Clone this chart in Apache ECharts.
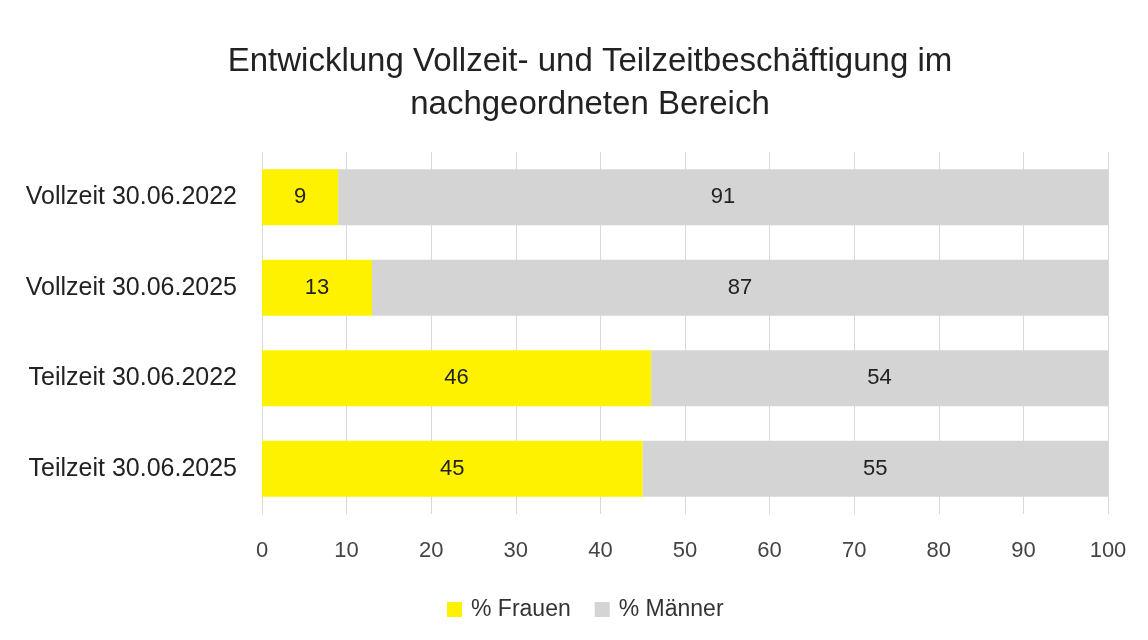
<!DOCTYPE html>
<html lang="de">
<head>
    <meta charset="UTF-8">
    <script src="https://cdn.jsdelivr.net/npm/echarts@6/dist/echarts.min.js"></script>
    <title>Vollzeit und Teilzeit</title>
    <style>
        html, body { margin: 0; padding: 0; background: #fff; }
        #chart { width: 1148px; height: 640px; }
    </style>
</head>
<body>
    <div id="chart"></div>
    <script>
        // Kategorien (von oben nach unten)
        const categories = ['Vollzeit 30.06.2022', 'Vollzeit 30.06.2025', 'Teilzeit 30.06.2022', 'Teilzeit 30.06.2025']
        const frauen = [9, 13, 46, 45]
        const maenner = [91, 87, 54, 55]
        const seriesNames = ['% Frauen', '% Männer']

        const font = '"Liberation Sans", Arial, sans-serif'
        const chart = echarts.init(document.getElementById('chart'))

        const label = {
            show: true,
            position: 'inside',
            color: '#222',
            fontSize: 22,
            fontFamily: font
        }

        chart.setOption({
            animation: false,
            title: {
                text: 'Entwicklung Vollzeit- und Teilzeitbeschäftigung im\nnachgeordneten Bereich',
                left: 585,
                textAlign: 'center',
                top: 35,
                textStyle: {
                    fontSize: 33,
                    fontWeight: 'normal',
                    color: '#222',
                    fontFamily: font,
                    lineHeight: 43
                }
            },
            legend: {
                data: seriesNames,
                bottom: 14,
                left: 442,
                itemWidth: 15,
                itemHeight: 15,
                itemGap: 24,
                icon: 'rect',
                textStyle: { fontSize: 23, color: '#333', fontFamily: font, padding: [0, 0, 0, 4] }
            },
            grid: {
                left: 262,
                right: 40,
                top: 152,
                bottom: 126
            },
            xAxis: {
                type: 'value',
                min: 0,
                max: 100,
                interval: 10,
                axisLine: { show: false },
                axisTick: { show: false },
                splitLine: { lineStyle: { color: '#d9d9d9', width: 1 } },
                axisLabel: { fontSize: 22, color: '#444', margin: 26, fontFamily: font }
            },
            yAxis: {
                type: 'category',
                data: categories,
                inverse: true,
                axisLine: { show: false },
                axisTick: { show: false },
                axisLabel: { fontSize: 25, color: '#222', margin: 25, fontFamily: font }
            },
            series: [
                {
                    name: seriesNames[0],
                    type: 'bar',
                    stack: 'total',
                    data: frauen,
                    barWidth: '62%',
                    itemStyle: { color: '#fff200' },
                    label: label
                },
                {
                    name: seriesNames[1],
                    type: 'bar',
                    stack: 'total',
                    data: maenner,
                    barWidth: '62%',
                    itemStyle: { color: '#d4d4d4' },
                    label: label
                }
            ]
        })
    </script>
</body>
</html>
